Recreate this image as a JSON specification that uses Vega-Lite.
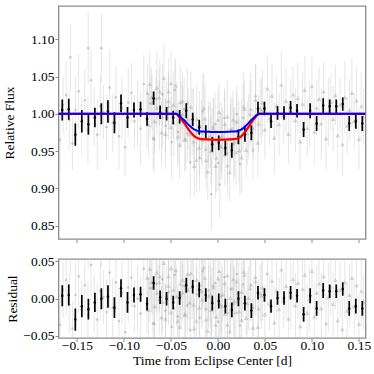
{
  "$schema": "https://vega.github.io/schema/vega-lite/v6.json",
  "padding": {"left": 1.5, "top": 5, "right": 5, "bottom": 2},
  "background": "white",
  "spacing": 9,
  "config": {
    "view": {"stroke": "#8c8c8c", "strokeWidth": 1.3},
    "axis": {
      "labelFont": "Liberation Serif, Times New Roman, serif", "titleFont": "Liberation Serif, Times New Roman, serif",
      "labelFontSize": 13.5, "titleFontSize": 13.5, "titleFontWeight": "normal",
      "labelColor": "black", "titleColor": "black",
      "domain": false, "grid": false, "tickColor": "#8c8c8c", "tickSize": 3.5, "tickWidth": 1, "labelPadding": 1
    },
    "axisX": {"labelPadding": -3, "titlePadding": 1}
  },
  "datasets": {
    "grey": [
      {"x": -0.168, "f": 0.965, "r": -0.035, "e": 0.042, "k": "c"},
      {"x": -0.1647, "f": 1.012, "r": 0.012, "e": 0.038, "k": "c"},
      {"x": -0.1614, "f": 1.025, "r": 0.025, "e": 0.047, "k": "c"},
      {"x": -0.1581, "f": 0.992, "r": -0.008, "e": 0.040, "k": "c"},
      {"x": -0.1548, "f": 0.960, "r": -0.040, "e": 0.036, "k": "c"},
      {"x": -0.1515, "f": 1.005, "r": 0.005, "e": 0.044, "k": "c"},
      {"x": -0.1482, "f": 1.030, "r": 0.030, "e": 0.050, "k": "c"},
      {"x": -0.1449, "f": 0.985, "r": -0.015, "e": 0.039, "k": "c"},
      {"x": -0.1416, "f": 1.018, "r": 0.018, "e": 0.041, "k": "c"},
      {"x": -0.1383, "f": 0.978, "r": -0.022, "e": 0.045, "k": "c"},
      {"x": -0.135, "f": 1.045, "r": 0.045, "e": 0.042, "k": "c"},
      {"x": -0.1317, "f": 0.995, "r": -0.005, "e": 0.038, "k": "c"},
      {"x": -0.1284, "f": 0.972, "r": -0.028, "e": 0.047, "k": "c"},
      {"x": -0.1251, "f": 1.010, "r": 0.010, "e": 0.040, "k": "c"},
      {"x": -0.1218, "f": 1.002, "r": 0.002, "e": 0.036, "k": "c"},
      {"x": -0.1185, "f": 0.982, "r": -0.018, "e": 0.044, "k": "c"},
      {"x": -0.1152, "f": 1.035, "r": 0.035, "e": 0.050, "k": "c"},
      {"x": -0.1119, "f": 0.988, "r": -0.012, "e": 0.039, "k": "c"},
      {"x": -0.1086, "f": 1.022, "r": 0.022, "e": 0.041, "k": "c"},
      {"x": -0.1053, "f": 0.970, "r": -0.030, "e": 0.045, "k": "c"},
      {"x": -0.102, "f": 1.008, "r": 0.008, "e": 0.042, "k": "c"},
      {"x": -0.0987, "f": 0.955, "r": -0.045, "e": 0.038, "k": "c"},
      {"x": -0.0954, "f": 1.015, "r": 0.015, "e": 0.047, "k": "c"},
      {"x": -0.0921, "f": 1.028, "r": 0.028, "e": 0.040, "k": "c"},
      {"x": -0.0888, "f": 0.990, "r": -0.010, "e": 0.036, "k": "c"},
      {"x": -0.0855, "f": 1.000, "r": 0.000, "e": 0.044, "k": "c"},
      {"x": -0.0822, "f": 0.980, "r": -0.020, "e": 0.050, "k": "c"},
      {"x": -0.0789, "f": 1.040, "r": 0.040, "e": 0.039, "k": "c"},
      {"x": -0.0756, "f": 0.994, "r": -0.006, "e": 0.041, "k": "c"},
      {"x": -0.0723, "f": 1.014, "r": 0.014, "e": 0.045, "k": "c"},
      {"x": -0.069, "f": 0.967, "r": -0.033, "e": 0.042, "k": "c"},
      {"x": -0.0657, "f": 1.020, "r": 0.020, "e": 0.038, "k": "c"},
      {"x": -0.0624, "f": 0.998, "r": -0.002, "e": 0.047, "k": "c"},
      {"x": -0.0591, "f": 1.026, "r": 0.026, "e": 0.040, "k": "c"},
      {"x": -0.0558, "f": 0.984, "r": -0.016, "e": 0.036, "k": "c"},
      {"x": -0.0525, "f": 1.009, "r": 0.009, "e": 0.044, "k": "c"},
      {"x": -0.0492, "f": 0.962, "r": -0.038, "e": 0.050, "k": "c"},
      {"x": -0.0459, "f": 1.032, "r": 0.032, "e": 0.039, "k": "c"},
      {"x": -0.0426, "f": 0.9755, "r": -0.024, "e": 0.041, "k": "c"},
      {"x": -0.0393, "f": 0.9984, "r": 0.004, "e": 0.045, "k": "c"},
      {"x": -0.036, "f": 1.006, "r": 0.017, "e": 0.042, "k": "c"},
      {"x": -0.0327, "f": 0.9735, "r": -0.009, "e": 0.038, "k": "c"},
      {"x": -0.0294, "f": 0.9345, "r": -0.042, "e": 0.047, "k": "c"},
      {"x": -0.0261, "f": 0.9955, "r": 0.024, "e": 0.040, "k": "c"},
      {"x": -0.0228, "f": 0.974, "r": 0.006, "e": 0.036, "k": "c"},
      {"x": -0.0195, "f": 0.9405, "r": -0.026, "e": 0.044, "k": "c"},
      {"x": -0.0162, "f": 1.003, "r": 0.037, "e": 0.050, "k": "c"},
      {"x": -0.0129, "f": 0.9518, "r": -0.014, "e": 0.039, "k": "c"},
      {"x": -0.0096, "f": 0.9765, "r": 0.011, "e": 0.041, "k": "c"},
      {"x": -0.0063, "f": 0.9623, "r": -0.003, "e": 0.045, "k": "c"},
      {"x": -0.003, "f": 0.9861, "r": 0.021, "e": 0.042, "k": "c"},
      {"x": 0.0003, "f": 0.934, "r": -0.031, "e": 0.038, "k": "c"},
      {"x": 0.0036, "f": 0.9681, "r": 0.003, "e": 0.047, "k": "c"},
      {"x": 0.0069, "f": 0.9943, "r": 0.029, "e": 0.040, "k": "c"},
      {"x": 0.0102, "f": 0.9465, "r": -0.019, "e": 0.036, "k": "c"},
      {"x": 0.0135, "f": 0.9788, "r": 0.013, "e": 0.044, "k": "c"},
      {"x": 0.0168, "f": 0.959, "r": -0.007, "e": 0.050, "k": "c"},
      {"x": 0.0201, "f": 0.9995, "r": 0.033, "e": 0.039, "k": "c"},
      {"x": 0.0234, "f": 0.9325, "r": -0.036, "e": 0.041, "k": "c"},
      {"x": 0.0267, "f": 0.9945, "r": 0.019, "e": 0.045, "k": "c"},
      {"x": -0.157, "f": 1.076, "r": 0.076, "e": 0.045, "k": "c"},
      {"x": -0.138, "f": 1.088, "r": 0.088, "e": 0.048, "k": "c"},
      {"x": -0.124, "f": 1.088, "r": 0.088, "e": 0.046, "k": "c"},
      {"x": -0.007, "f": 0.892, "r": -0.073, "e": 0.048, "k": "c"},
      {"x": 0.002, "f": 0.905, "r": -0.060, "e": 0.046, "k": "c"},
      {"x": -0.075, "f": 1.028, "r": 0.028, "e": 0.040, "k": "t"},
      {"x": -0.0725, "f": 1.040, "r": 0.040, "e": 0.045, "k": "t"},
      {"x": -0.07, "f": 1.015, "r": 0.015, "e": 0.037, "k": "t"},
      {"x": -0.0675, "f": 0.990, "r": -0.010, "e": 0.043, "k": "t"},
      {"x": -0.065, "f": 1.035, "r": 0.035, "e": 0.048, "k": "t"},
      {"x": -0.0625, "f": 1.022, "r": 0.022, "e": 0.039, "k": "t"},
      {"x": -0.06, "f": 0.975, "r": -0.025, "e": 0.042, "k": "t"},
      {"x": -0.0575, "f": 1.048, "r": 0.048, "e": 0.046, "k": "t"},
      {"x": -0.055, "f": 1.005, "r": 0.005, "e": 0.038, "k": "t"},
      {"x": -0.0525, "f": 1.030, "r": 0.030, "e": 0.044, "k": "t"},
      {"x": -0.05, "f": 0.982, "r": -0.018, "e": 0.040, "k": "t"},
      {"x": -0.0475, "f": 1.012, "r": 0.012, "e": 0.045, "k": "t"},
      {"x": -0.045, "f": 1.038, "r": 0.038, "e": 0.037, "k": "t"},
      {"x": -0.0425, "f": 0.9693, "r": -0.030, "e": 0.043, "k": "t"},
      {"x": -0.04, "f": 1.0155, "r": 0.020, "e": 0.048, "k": "t"},
      {"x": -0.0375, "f": 0.9995, "r": 0.008, "e": 0.039, "k": "t"},
      {"x": -0.035, "f": 0.965, "r": -0.022, "e": 0.042, "k": "t"},
      {"x": -0.0325, "f": 1.015, "r": 0.033, "e": 0.046, "k": "t"},
      {"x": -0.03, "f": 0.9725, "r": -0.005, "e": 0.038, "k": "t"},
      {"x": -0.0275, "f": 0.9895, "r": 0.016, "e": 0.044, "k": "t"},
      {"x": -0.025, "f": 0.930, "r": -0.040, "e": 0.040, "k": "t"},
      {"x": -0.0225, "f": 0.993, "r": 0.025, "e": 0.045, "k": "t"},
      {"x": -0.02, "f": 0.9545, "r": -0.012, "e": 0.037, "k": "t"},
      {"x": -0.0175, "f": 0.976, "r": 0.010, "e": 0.043, "k": "t"},
      {"x": -0.015, "f": 1.0078, "r": 0.042, "e": 0.048, "k": "t"},
      {"x": -0.0125, "f": 0.9376, "r": -0.028, "e": 0.039, "k": "t"},
      {"x": -0.01, "f": 0.9685, "r": 0.003, "e": 0.042, "k": "t"},
      {"x": -0.0075, "f": 0.9503, "r": -0.015, "e": 0.046, "k": "t"},
      {"x": -0.005, "f": 0.9832, "r": 0.018, "e": 0.038, "k": "t"},
      {"x": -0.0025, "f": 0.9301, "r": -0.035, "e": 0.044, "k": "t"},
      {"x": 0.0, "f": 0.992, "r": 0.027, "e": 0.040, "k": "t"},
      {"x": 0.0025, "f": 0.9571, "r": -0.008, "e": 0.045, "k": "t"},
      {"x": 0.005, "f": 0.9712, "r": 0.006, "e": 0.037, "k": "t"},
      {"x": 0.0075, "f": 0.9453, "r": -0.020, "e": 0.043, "k": "t"},
      {"x": 0.01, "f": 0.9965, "r": 0.031, "e": 0.048, "k": "t"},
      {"x": 0.0125, "f": 0.9216, "r": -0.044, "e": 0.039, "k": "t"},
      {"x": 0.015, "f": 0.9798, "r": 0.014, "e": 0.042, "k": "t"},
      {"x": 0.0175, "f": 0.963, "r": -0.003, "e": 0.046, "k": "t"},
      {"x": 0.02, "f": 0.9895, "r": 0.023, "e": 0.038, "k": "t"},
      {"x": 0.0225, "f": 0.951, "r": -0.017, "e": 0.044, "k": "t"},
      {"x": 0.025, "f": 0.979, "r": 0.009, "e": 0.040, "k": "t"},
      {"x": 0.0275, "f": 1.0095, "r": 0.036, "e": 0.045, "k": "t"},
      {"x": 0.03, "f": 0.9515, "r": -0.026, "e": 0.037, "k": "t"},
      {"x": 0.0325, "f": 0.983, "r": 0.001, "e": 0.043, "k": "t"},
      {"x": 0.035, "f": 1.006, "r": 0.019, "e": 0.048, "k": "t"},
      {"x": 0.0375, "f": 0.9805, "r": -0.011, "e": 0.039, "k": "t"},
      {"x": 0.04, "f": 1.0245, "r": 0.029, "e": 0.042, "k": "t"},
      {"x": 0.0425, "f": 0.9613, "r": -0.038, "e": 0.046, "k": "t"},
      {"x": 0.045, "f": 1.007, "r": 0.007, "e": 0.038, "k": "t"},
      {"x": 0.0475, "f": 1.015, "r": 0.015, "e": 0.044, "k": "t"},
      {"x": 0.05, "f": 0.979, "r": -0.021, "e": 0.040, "k": "t"},
      {"x": 0.0525, "f": 1.034, "r": 0.034, "e": 0.045, "k": "t"},
      {"x": 0.055, "f": 0.994, "r": -0.006, "e": 0.037, "k": "t"},
      {"x": 0.0575, "f": 1.024, "r": 0.024, "e": 0.043, "k": "t"},
      {"x": 0.06, "f": 0.968, "r": -0.032, "e": 0.048, "k": "t"},
      {"x": 0.0625, "f": 1.011, "r": 0.011, "e": 0.039, "k": "t"},
      {"x": 0.065, "f": 0.986, "r": -0.014, "e": 0.042, "k": "t"},
      {"x": 0.0675, "f": 1.039, "r": 0.039, "e": 0.046, "k": "t"},
      {"x": 0.07, "f": 0.998, "r": -0.002, "e": 0.038, "k": "t"},
      {"x": 0.0725, "f": 1.017, "r": 0.017, "e": 0.044, "k": "t"},
      {"x": 0.075, "f": 0.973, "r": -0.027, "e": 0.040, "k": "t"},
      {"x": 0.0775, "f": 1.004, "r": 0.004, "e": 0.045, "k": "t"},
      {"x": 0.08, "f": 1.026, "r": 0.026, "e": 0.037, "k": "t"},
      {"x": 0.0825, "f": 0.991, "r": -0.009, "e": 0.043, "k": "t"},
      {"x": 0.085, "f": 1.021, "r": 0.021, "e": 0.048, "k": "t"},
      {"x": 0.0875, "f": 0.963, "r": -0.037, "e": 0.039, "k": "t"},
      {"x": 0.09, "f": 1.013, "r": 0.013, "e": 0.042, "k": "t"},
      {"x": 0.0925, "f": 1.032, "r": 0.032, "e": 0.046, "k": "t"},
      {"x": 0.095, "f": 0.981, "r": -0.019, "e": 0.038, "k": "t"},
      {"x": 0.0975, "f": 1.000, "r": 0.000, "e": 0.044, "k": "t"},
      {"x": 0.1, "f": 1.037, "r": 0.037, "e": 0.040, "k": "t"},
      {"x": 0.1025, "f": 0.976, "r": -0.024, "e": 0.045, "k": "t"},
      {"x": 0.105, "f": 1.008, "r": 0.008, "e": 0.037, "k": "t"},
      {"x": 0.1075, "f": 1.020, "r": 0.020, "e": 0.043, "k": "t"},
      {"x": 0.11, "f": 0.987, "r": -0.013, "e": 0.048, "k": "t"},
      {"x": 0.1125, "f": 1.030, "r": 0.030, "e": 0.039, "k": "t"},
      {"x": 0.115, "f": 0.967, "r": -0.033, "e": 0.042, "k": "t"},
      {"x": 0.1175, "f": 1.002, "r": 0.002, "e": 0.046, "k": "t"},
      {"x": 0.12, "f": 1.016, "r": 0.016, "e": 0.038, "k": "t"},
      {"x": 0.1225, "f": 0.993, "r": -0.007, "e": 0.044, "k": "t"},
      {"x": 0.125, "f": 1.025, "r": 0.025, "e": 0.040, "k": "t"},
      {"x": 0.1275, "f": 0.971, "r": -0.029, "e": 0.045, "k": "t"},
      {"x": 0.13, "f": 1.012, "r": 0.012, "e": 0.037, "k": "t"},
      {"x": 0.1325, "f": 0.959, "r": -0.041, "e": 0.043, "k": "t"},
      {"x": 0.135, "f": 1.022, "r": 0.022, "e": 0.048, "k": "t"},
      {"x": 0.1375, "f": 0.984, "r": -0.016, "e": 0.039, "k": "t"},
      {"x": 0.14, "f": 1.005, "r": 0.005, "e": 0.042, "k": "t"},
      {"x": 0.1425, "f": 1.028, "r": 0.028, "e": 0.046, "k": "t"},
      {"x": 0.145, "f": 0.990, "r": -0.010, "e": 0.038, "k": "t"},
      {"x": 0.1475, "f": 1.018, "r": 0.018, "e": 0.044, "k": "t"},
      {"x": 0.15, "f": 0.966, "r": -0.034, "e": 0.040, "k": "t"},
      {"x": 0.1525, "f": 1.010, "r": 0.010, "e": 0.045, "k": "t"},
      {"x": 0.155, "f": 0.996, "r": -0.004, "e": 0.037, "k": "t"},
      {"x": -0.0738, "f": 0.985, "r": -0.015, "e": 0.043, "k": "t"},
      {"x": -0.0708, "f": 1.022, "r": 0.022, "e": 0.040, "k": "t"},
      {"x": -0.0678, "f": 0.967, "r": -0.033, "e": 0.046, "k": "t"},
      {"x": -0.0648, "f": 1.008, "r": 0.008, "e": 0.038, "k": "t"},
      {"x": -0.0618, "f": 1.030, "r": 0.030, "e": 0.044, "k": "t"},
      {"x": -0.0588, "f": 0.996, "r": -0.004, "e": 0.041, "k": "t"},
      {"x": -0.0558, "f": 0.973, "r": -0.027, "e": 0.047, "k": "t"},
      {"x": -0.0528, "f": 1.017, "r": 0.017, "e": 0.039, "k": "t"},
      {"x": -0.0498, "f": 1.041, "r": 0.041, "e": 0.043, "k": "t"},
      {"x": -0.0468, "f": 0.988, "r": -0.012, "e": 0.045, "k": "t"},
      {"x": -0.0438, "f": 1.003, "r": 0.003, "e": 0.040, "k": "t"},
      {"x": -0.0408, "f": 0.9585, "r": -0.038, "e": 0.046, "k": "t"},
      {"x": -0.0378, "f": 1.017, "r": 0.025, "e": 0.038, "k": "t"},
      {"x": -0.0348, "f": 0.9666, "r": -0.020, "e": 0.044, "k": "t"},
      {"x": -0.0318, "f": 0.9928, "r": 0.012, "e": 0.041, "k": "t"},
      {"x": -0.0288, "f": 1.0095, "r": 0.034, "e": 0.047, "k": "t"},
      {"x": -0.0258, "f": 0.963, "r": -0.008, "e": 0.039, "k": "t"},
      {"x": -0.0228, "f": 0.938, "r": -0.030, "e": 0.043, "k": "t"},
      {"x": -0.0198, "f": 0.9855, "r": 0.019, "e": 0.045, "k": "t"},
      {"x": -0.0168, "f": 0.965, "r": -0.001, "e": 0.040, "k": "t"},
      {"x": -0.0138, "f": 0.9937, "r": 0.028, "e": 0.046, "k": "t"},
      {"x": -0.0108, "f": 0.9225, "r": -0.043, "e": 0.038, "k": "t"},
      {"x": -0.0078, "f": 0.9713, "r": 0.006, "e": 0.044, "k": "t"},
      {"x": -0.0048, "f": 0.9802, "r": 0.015, "e": 0.041, "k": "t"},
      {"x": -0.0018, "f": 0.941, "r": -0.024, "e": 0.047, "k": "t"},
      {"x": 0.0012, "f": 1.002, "r": 0.037, "e": 0.039, "k": "t"},
      {"x": 0.0042, "f": 0.9552, "r": -0.010, "e": 0.043, "k": "t"},
      {"x": 0.0072, "f": 0.9863, "r": 0.021, "e": 0.045, "k": "t"},
      {"x": 0.0102, "f": 0.9305, "r": -0.035, "e": 0.040, "k": "t"},
      {"x": 0.0132, "f": 0.9667, "r": 0.001, "e": 0.046, "k": "t"},
      {"x": 0.0162, "f": 0.992, "r": 0.026, "e": 0.038, "k": "t"},
      {"x": 0.0192, "f": 0.9483, "r": -0.018, "e": 0.044, "k": "t"},
      {"x": 0.0222, "f": 0.977, "r": 0.009, "e": 0.041, "k": "t"},
      {"x": 0.0252, "f": 0.9413, "r": -0.029, "e": 0.047, "k": "t"},
      {"x": 0.0282, "f": 1.0063, "r": 0.032, "e": 0.039, "k": "t"},
      {"x": 0.0312, "f": 0.9738, "r": -0.006, "e": 0.043, "k": "t"},
      {"x": 0.0342, "f": 0.9996, "r": 0.014, "e": 0.045, "k": "t"},
      {"x": 0.0372, "f": 0.952, "r": -0.039, "e": 0.040, "k": "t"},
      {"x": 0.0402, "f": 1.0188, "r": 0.023, "e": 0.046, "k": "t"},
      {"x": 0.0432, "f": 0.9868, "r": -0.013, "e": 0.038, "k": "t"},
      {"x": 0.0462, "f": 1.004, "r": 0.004, "e": 0.044, "k": "t"}
    ],
    "bins": [
      {"x": -0.1656, "f": 1.005, "r": 0.004, "e": 0.014},
      {"x": -0.1587, "f": 1.006, "r": 0.005, "e": 0.014},
      {"x": -0.1517, "f": 0.972, "r": -0.028, "e": 0.015},
      {"x": -0.1448, "f": 0.990, "r": -0.010, "e": 0.015},
      {"x": -0.1378, "f": 0.986, "r": -0.014, "e": 0.014},
      {"x": -0.1309, "f": 0.995, "r": -0.005, "e": 0.013},
      {"x": -0.124, "f": 1.000, "r": 0.000, "e": 0.014},
      {"x": -0.117, "f": 1.003, "r": 0.003, "e": 0.015},
      {"x": -0.1101, "f": 0.988, "r": -0.012, "e": 0.014},
      {"x": -0.1031, "f": 1.014, "r": 0.014, "e": 0.012},
      {"x": -0.0962, "f": 0.995, "r": -0.005, "e": 0.014},
      {"x": -0.0893, "f": 1.005, "r": 0.005, "e": 0.010},
      {"x": -0.0823, "f": 1.006, "r": 0.006, "e": 0.010},
      {"x": -0.0754, "f": 0.993, "r": -0.007, "e": 0.009},
      {"x": -0.0684, "f": 1.021, "r": 0.021, "e": 0.009},
      {"x": -0.0615, "f": 1.002, "r": 0.002, "e": 0.009},
      {"x": -0.0546, "f": 1.000, "r": 0.000, "e": 0.009},
      {"x": -0.0476, "f": 0.995, "r": -0.005, "e": 0.009},
      {"x": -0.0407, "f": 0.996, "r": 0.001, "e": 0.009},
      {"x": -0.0337, "f": 1.004, "r": 0.018, "e": 0.010},
      {"x": -0.0268, "f": 0.9925, "r": 0.016, "e": 0.009},
      {"x": -0.0199, "f": 0.982, "r": 0.012, "e": 0.010},
      {"x": -0.0129, "f": 0.9755, "r": 0.005, "e": 0.009},
      {"x": -0.006, "f": 0.959, "r": -0.006, "e": 0.010},
      {"x": 0.0009, "f": 0.961, "r": -0.003, "e": 0.010},
      {"x": 0.0079, "f": 0.954, "r": -0.010, "e": 0.010},
      {"x": 0.0148, "f": 0.951, "r": -0.015, "e": 0.010},
      {"x": 0.0218, "f": 0.969, "r": 0.000, "e": 0.010},
      {"x": 0.0287, "f": 0.9724, "r": -0.006, "e": 0.010},
      {"x": 0.0356, "f": 0.9745, "r": -0.016, "e": 0.010},
      {"x": 0.0426, "f": 1.007, "r": 0.008, "e": 0.009},
      {"x": 0.0495, "f": 1.007, "r": 0.005, "e": 0.009},
      {"x": 0.0565, "f": 0.990, "r": -0.010, "e": 0.009},
      {"x": 0.0634, "f": 1.001, "r": 0.001, "e": 0.009},
      {"x": 0.0703, "f": 1.001, "r": 0.001, "e": 0.009},
      {"x": 0.0773, "f": 1.008, "r": 0.008, "e": 0.009},
      {"x": 0.0842, "f": 1.004, "r": 0.004, "e": 0.009},
      {"x": 0.0912, "f": 0.979, "r": -0.021, "e": 0.010},
      {"x": 0.0981, "f": 1.004, "r": 0.004, "e": 0.010},
      {"x": 0.105, "f": 0.987, "r": -0.013, "e": 0.010},
      {"x": 0.112, "f": 1.011, "r": 0.011, "e": 0.010},
      {"x": 0.1189, "f": 1.010, "r": 0.010, "e": 0.009},
      {"x": 0.1259, "f": 1.010, "r": 0.010, "e": 0.009},
      {"x": 0.1328, "f": 1.013, "r": 0.013, "e": 0.009},
      {"x": 0.1397, "f": 0.987, "r": -0.013, "e": 0.010},
      {"x": 0.1467, "f": 0.990, "r": -0.010, "e": 0.010},
      {"x": 0.1536, "f": 0.987, "r": -0.013, "e": 0.010}
    ],
    "model": [
      {"x": -0.17, "red": 1.0, "lo": 1.0, "hi": 1.0, "blue": 1.0},
      {"x": -0.0445, "red": 1.0, "lo": 0.9995, "hi": 1.0005, "blue": 1.0},
      {"x": -0.041, "red": 0.9955, "lo": 0.994, "hi": 0.997, "blue": 0.99685},
      {"x": -0.0383, "red": 0.9915, "lo": 0.9898, "hi": 0.9932, "blue": 0.99405},
      {"x": -0.0356, "red": 0.987, "lo": 0.9852, "hi": 0.9888, "blue": 0.9909},
      {"x": -0.033, "red": 0.982, "lo": 0.9802, "hi": 0.9838, "blue": 0.9874},
      {"x": -0.0304, "red": 0.9775, "lo": 0.9757, "hi": 0.9793, "blue": 0.98425},
      {"x": -0.0278, "red": 0.9735, "lo": 0.9717, "hi": 0.9753, "blue": 0.98145},
      {"x": -0.0252, "red": 0.970, "lo": 0.9682, "hi": 0.9718, "blue": 0.979},
      {"x": -0.0226, "red": 0.968, "lo": 0.9662, "hi": 0.9698, "blue": 0.9776},
      {"x": -0.02, "red": 0.9665, "lo": 0.9647, "hi": 0.9683, "blue": 0.97655},
      {"x": -0.015, "red": 0.9658, "lo": 0.964, "hi": 0.9676, "blue": 0.97606},
      {"x": -0.01, "red": 0.9655, "lo": 0.9637, "hi": 0.9673, "blue": 0.97585},
      {"x": -0.005, "red": 0.9652, "lo": 0.9634, "hi": 0.967, "blue": 0.97564},
      {"x": 0.0, "red": 0.965, "lo": 0.9632, "hi": 0.9668, "blue": 0.9755},
      {"x": 0.005, "red": 0.9652, "lo": 0.9634, "hi": 0.967, "blue": 0.97564},
      {"x": 0.01, "red": 0.9655, "lo": 0.9637, "hi": 0.9673, "blue": 0.97585},
      {"x": 0.015, "red": 0.9658, "lo": 0.964, "hi": 0.9676, "blue": 0.97606},
      {"x": 0.02, "red": 0.9665, "lo": 0.9647, "hi": 0.9683, "blue": 0.97655},
      {"x": 0.0225, "red": 0.968, "lo": 0.9662, "hi": 0.9698, "blue": 0.9776},
      {"x": 0.025, "red": 0.970, "lo": 0.9682, "hi": 0.9718, "blue": 0.979},
      {"x": 0.0275, "red": 0.9735, "lo": 0.9717, "hi": 0.9753, "blue": 0.98145},
      {"x": 0.03, "red": 0.9775, "lo": 0.9757, "hi": 0.9793, "blue": 0.98425},
      {"x": 0.0325, "red": 0.982, "lo": 0.9802, "hi": 0.9838, "blue": 0.9874},
      {"x": 0.035, "red": 0.987, "lo": 0.9852, "hi": 0.9888, "blue": 0.9909},
      {"x": 0.0375, "red": 0.9915, "lo": 0.9898, "hi": 0.9932, "blue": 0.99405},
      {"x": 0.04, "red": 0.9955, "lo": 0.994, "hi": 0.997, "blue": 0.99685},
      {"x": 0.0435, "red": 1.0, "lo": 0.9995, "hi": 1.0005, "blue": 1.0},
      {"x": 0.157, "red": 1.0, "lo": 1.0, "hi": 1.0, "blue": 1.0}
    ]
  },
  "vconcat": [
    {
      "width": 307,
      "height": 233,
      "encoding": {
        "x": {"field": "x", "type": "quantitative", "title": null, "scale": {"domain": [-0.1696, 0.157], "nice": false, "zero": false},
          "axis": {"tickCount": 7, "labels": false, "title": null}}
      },
      "layer": [
        {
          "data": {"name": "grey"},
          "mark": {"type": "errorbar", "color": "#c8c8c8", "opacity": 0.45, "thickness": 1, "clip": true},
          "encoding": {
            "y": {"field": "f", "type": "quantitative", "title": "Relative Flux", "scale": {"domain": [0.832, 1.1446], "nice": false, "zero": false},
              "axis": {"tickCount": 6, "labelExpr": "format(datum.value, '.2f')", "titlePadding": 14}},
            "yError": {"field": "e"}
          }
        },
        {
          "data": {"name": "grey"},
          "mark": {"type": "point", "filled": true, "clip": true, "strokeWidth": 0},
          "encoding": {
            "y": {"field": "f", "type": "quantitative", "title": "Relative Flux"},
            "shape": {"field": "k", "type": "nominal", "scale": {"domain": ["c", "t"], "range": ["circle", "triangle-up"]}, "legend": null},
            "size": {"field": "k", "type": "nominal", "scale": {"domain": ["c", "t"], "range": [7, 22]}, "legend": null},
            "color": {"field": "k", "type": "nominal", "scale": {"domain": ["c", "t"], "range": ["#9a9a9a", "#a8a8a8"]}, "legend": null},
            "opacity": {"value": 0.45}
          }
        },
        {
          "data": {"name": "bins"},
          "mark": {"type": "errorbar", "color": "black", "thickness": 1.7, "clip": true},
          "encoding": {
            "y": {"field": "f", "type": "quantitative", "title": "Relative Flux"},
            "yError": {"field": "e"}
          }
        },
        {
          "data": {"name": "bins"},
          "mark": {"type": "point", "filled": true, "color": "black", "size": 6, "opacity": 1, "clip": true},
          "encoding": {
            "y": {"field": "f", "type": "quantitative", "title": "Relative Flux"}
          }
        },
        {
          "data": {"name": "model"},
          "mark": {"type": "area", "color": "#ff6060", "opacity": 0.45, "clip": true},
          "encoding": {
            "y": {"field": "lo", "type": "quantitative", "title": "Relative Flux"},
            "y2": {"field": "hi"}
          }
        },
        {
          "data": {"name": "model"},
          "mark": {"type": "line", "color": "#ff0000", "strokeWidth": 2.2, "interpolate": "monotone", "clip": true},
          "encoding": {
            "y": {"field": "red", "type": "quantitative", "title": "Relative Flux"}
          }
        },
        {
          "data": {"name": "model"},
          "mark": {"type": "line", "color": "#0000ff", "strokeWidth": 2, "interpolate": "monotone", "clip": true},
          "encoding": {
            "y": {"field": "blue", "type": "quantitative", "title": "Relative Flux"}
          }
        }
      ]
    },
    {
      "width": 307,
      "height": 79,
      "encoding": {
        "x": {"field": "x", "type": "quantitative", "title": "Time from Eclipse Center [d]", "scale": {"domain": [-0.1696, 0.157], "nice": false, "zero": false},
          "axis": {"tickCount": 7, "labelExpr": "format(datum.value, '.2f')"}}
      },
      "layer": [
        {
          "data": {"name": "grey"},
          "mark": {"type": "errorbar", "color": "#c8c8c8", "opacity": 0.45, "thickness": 1, "clip": true},
          "encoding": {
            "y": {"field": "r", "type": "quantitative", "title": "Residual", "scale": {"domain": [-0.0527, 0.0532], "nice": false, "zero": false},
              "axis": {"tickCount": 3, "labelExpr": "format(datum.value, '.2f')", "titlePadding": 3}},
            "yError": {"field": "e"}
          }
        },
        {
          "data": {"name": "grey"},
          "mark": {"type": "point", "filled": true, "clip": true, "strokeWidth": 0},
          "encoding": {
            "y": {"field": "r", "type": "quantitative", "title": "Residual"},
            "shape": {"field": "k", "type": "nominal", "scale": {"domain": ["c", "t"], "range": ["circle", "triangle-up"]}, "legend": null},
            "size": {"field": "k", "type": "nominal", "scale": {"domain": ["c", "t"], "range": [7, 22]}, "legend": null},
            "color": {"field": "k", "type": "nominal", "scale": {"domain": ["c", "t"], "range": ["#9a9a9a", "#a8a8a8"]}, "legend": null},
            "opacity": {"value": 0.45}
          }
        },
        {
          "data": {"name": "bins"},
          "mark": {"type": "errorbar", "color": "black", "thickness": 1.7, "clip": true},
          "encoding": {
            "y": {"field": "r", "type": "quantitative", "title": "Residual"},
            "yError": {"field": "e"}
          }
        },
        {
          "data": {"name": "bins"},
          "mark": {"type": "point", "filled": true, "color": "black", "size": 6, "opacity": 1, "clip": true},
          "encoding": {
            "y": {"field": "r", "type": "quantitative", "title": "Residual"}
          }
        }
      ]
    }
  ]
}
